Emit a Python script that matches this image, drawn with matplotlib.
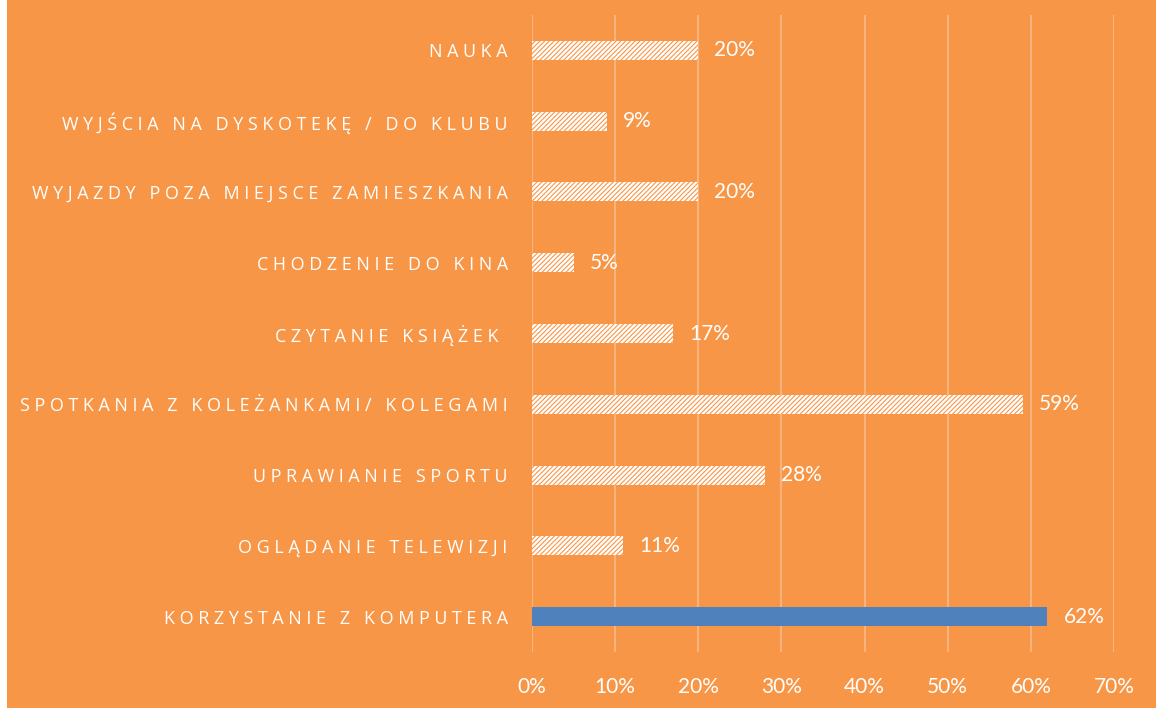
import matplotlib
matplotlib.use("Agg")
import matplotlib.pyplot as plt
from matplotlib.patches import Rectangle
from matplotlib.ticker import PercentFormatter

categories = [
    "KORZYSTANIE Z KOMPUTERA",
    "OGLĄDANIE TELEWIZJI",
    "UPRAWIANIE SPORTU",
    "SPOTKANIA Z KOLEŻANKAMI/ KOLEGAMI",
    "CZYTANIE KSIĄŻEK ",
    "CHODZENIE DO KINA",
    "WYJAZDY POZA MIEJSCE ZAMIESZKANIA",
    "WYJŚCIA NA DYSKOTEKĘ / DO KLUBU",
    "NAUKA",
]
values = [62, 11, 28, 59, 17, 5, 20, 9, 20]
xticks = [0, 10, 20, 30, 40, 50, 60, 70]

ORANGE = "#F79646"
BLUE = "#4F81BD"

plt.rcParams['font.family'] = ['Lato', 'DejaVu Sans']
plt.rcParams['hatch.linewidth'] = 0.8

fig = plt.figure(figsize=(11.56, 7.08), dpi=100, facecolor=ORANGE)
fig.patches.append(Rectangle((0, 0), 7/1156, 1, transform=fig.transFigure,
                             facecolor="white", edgecolor="none", zorder=-1))
ax = fig.add_axes([532/1156, 1 - 652/708, (1114 - 532)/1156, (652 - 15)/708])
ax.set_facecolor("none")

def spaced(s):
    return " ".join(list(s))

ys = list(range(len(categories)))
for i, (c, v) in enumerate(zip(categories, values)):
    if i == 0:
        ax.barh(i, v, height=0.27, color=BLUE, edgecolor="none", zorder=3)
    else:
        ax.barh(i, v, height=0.27, facecolor="white", edgecolor=ORANGE,
                linewidth=0, hatch="///////", zorder=3)
    ax.annotate(f"{v}%", xy=(v, i), xytext=(11.5, 0), textcoords="offset points",
                ha="left", va="center", color="white", fontsize=15)

ax.set_ylim(-0.5, len(categories) - 0.5)
ax.set_xlim(0, 70)
ax.set_yticks(ys)
ax.set_yticklabels([spaced(c) for c in categories], color="white", fontsize=12.9,
                   family=['Open Sans', 'DejaVu Sans'])
ax.set_xticks(xticks)
ax.xaxis.set_major_formatter(PercentFormatter(decimals=0))
ax.tick_params(axis="x", colors="white", labelsize=15, length=0, pad=18)
ax.tick_params(axis="y", length=0, pad=17.5)
for s in ax.spines.values():
    s.set_visible(False)
ax.grid(axis="x", color="#FAB27F", linewidth=1.5, zorder=1)
ax.set_axisbelow(True)

fig.savefig("out.png", dpi=100, facecolor=fig.get_facecolor())
